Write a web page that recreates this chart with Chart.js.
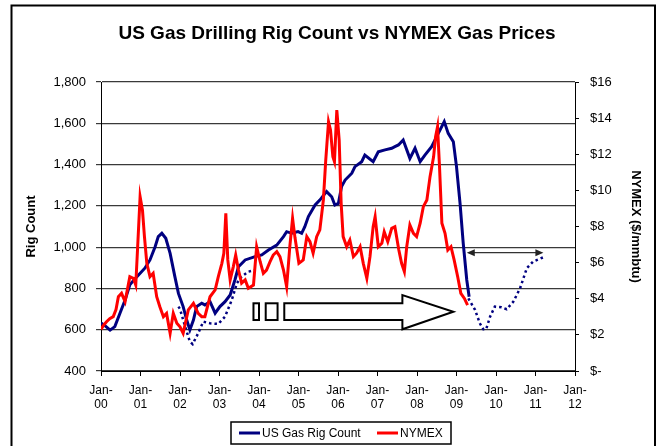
<!DOCTYPE html>
<html>
<head>
<meta charset="utf-8">
<script src="https://cdn.jsdelivr.net/npm/chart.js@4.4.0/dist/chart.umd.min.js"></script>
<style>
	body { margin: 0; background: #fff; }
	canvas { display: block; }
</style>
</head>
<body>
<canvas id="rigChart" width="662" height="446"></canvas>
<script>
// Rig count and NYMEX gas price (x = years since Jan-00)
const rigYears = [0.00, 0.10, 0.23, 0.35, 0.48, 0.61, 0.73, 0.85, 0.95, 1.11, 1.24, 1.37, 1.45, 1.54, 1.64, 1.75, 1.87, 1.96,
	2.08, 2.17, 2.25, 2.34, 2.42, 2.55, 2.63, 2.76, 2.89, 3.01, 3.14, 3.27, 3.39, 3.48, 3.65, 3.90, 4.07, 4.24, 4.45,
	4.62, 4.70, 4.83, 4.99, 5.08, 5.16, 5.25, 5.42, 5.54, 5.71, 5.84, 5.92, 6.01, 6.09, 6.18, 6.35, 6.43, 6.60, 6.68,
	6.89, 7.02, 7.19, 7.36, 7.44, 7.53, 7.65, 7.82, 7.95, 8.08, 8.20, 8.37, 8.54, 8.69, 8.79, 8.92, 9.00, 9.09, 9.17,
	9.26, 9.32];
const rigCounts = [632, 620, 598, 615, 680, 744, 817, 845, 865, 898, 938, 1002, 1051, 1067, 1043, 970, 857, 776,
	712, 647, 599, 647, 712, 728, 720, 736, 680, 712, 736, 768, 841, 905, 938, 954, 962, 986, 1010,
	1051, 1075, 1067, 1075, 1067, 1099, 1148, 1204, 1228, 1269, 1244, 1204, 1212, 1293, 1325, 1358, 1390, 1414, 1446,
	1414, 1462, 1471, 1479, 1487, 1495, 1519, 1430, 1479, 1414, 1446, 1487, 1551, 1608, 1551, 1511, 1390, 1212, 1019,
	841, 760];

// dotted rig count paths (two pieces, null splits them)
const dotYears = [1.96, 2.00, 2.13, 2.25, 2.32, 2.46, 2.59, 2.76, 2.97, 3.14, 3.31, 3.44, 3.56, 3.73, 3.90,
	6.00,
	9.30, 9.47, 9.59, 9.68, 9.75, 9.85, 9.97, 10.14, 10.27, 10.44, 10.61, 10.78, 10.94, 11.20];
const dotCounts = [712, 700, 615, 542, 530, 583, 639, 631, 628, 663, 744, 825, 857, 881, 889,
	null,
	752, 696, 631, 602, 602, 663, 712, 709, 699, 736, 801, 898, 930, 951];

const gasYears = [0.00, 0.07, 0.14, 0.22, 0.31, 0.38, 0.44, 0.52, 0.61, 0.73, 0.82, 0.88, 0.92, 0.99, 1.05, 1.10,
	1.16, 1.24, 1.32, 1.41, 1.49, 1.58, 1.66, 1.75, 1.83, 1.92, 2.00, 2.08, 2.21, 2.34, 2.46, 2.55, 2.63, 2.76,
	2.89, 2.97, 3.06, 3.11, 3.16, 3.21, 3.27, 3.35, 3.41, 3.48, 3.56, 3.65, 3.73, 3.86, 3.94, 4.03, 4.11, 4.19,
	4.28, 4.36, 4.45, 4.53, 4.62, 4.70, 4.78, 4.85, 4.91, 5.01, 5.12, 5.21, 5.29, 5.37, 5.46, 5.54, 5.63, 5.69,
	5.76, 5.81, 5.87, 5.91, 5.97, 6.03, 6.08, 6.13, 6.22, 6.30, 6.39, 6.47, 6.56, 6.64, 6.73, 6.81, 6.89, 6.94,
	7.02, 7.11, 7.17, 7.26, 7.36, 7.44, 7.54, 7.61, 7.68, 7.74, 7.82, 7.91, 7.99, 8.08, 8.16, 8.25, 8.33, 8.42,
	8.47, 8.52, 8.57, 8.63, 8.71, 8.78, 8.86, 8.94, 9.03, 9.11, 9.20, 9.28];
const gasPrices = [2.30, 2.55, 2.73, 2.90, 3.01, 3.40, 4.11, 4.30, 3.84, 5.22, 5.13, 4.76, 6.52, 9.65, 8.91, 7.44,
	5.96, 5.22, 5.41, 4.11, 3.56, 3.01, 3.19, 2.09, 3.19, 2.64, 2.45, 2.09, 3.38, 3.75, 3.19, 3.01, 3.01, 4.11,
	4.49, 5.22, 5.96, 6.52, 8.73, 6.15, 5.04, 5.78, 6.42, 5.59, 4.86, 5.04, 4.58, 4.76, 6.88, 6.05, 5.41, 5.59,
	6.05, 6.42, 6.61, 6.33, 5.59, 4.67, 6.88, 8.45, 7.40, 5.96, 6.15, 7.44, 7.16, 6.52, 7.44, 7.81, 9.47, 11.68,
	13.80, 13.34, 11.86, 11.59, 14.45, 12.79, 9.28, 7.44, 6.88, 7.25, 6.33, 6.52, 6.88, 5.96, 5.13, 6.33, 7.99, 8.54,
	6.88, 7.07, 7.71, 7.16, 7.90, 7.99, 6.70, 5.96, 5.50, 6.88, 8.08, 7.62, 7.44, 8.18, 9.10, 9.47, 10.76, 11.86,
	12.97, 13.52, 11.31, 8.18, 7.62, 6.70, 6.88, 6.15, 5.22, 4.30, 4.02, 3.65];

const xTickLabels = [["Jan-", "00"], ["Jan-", "01"], ["Jan-", "02"], ["Jan-", "03"], ["Jan-", "04"], ["Jan-", "05"],
	["Jan-", "06"], ["Jan-", "07"], ["Jan-", "08"], ["Jan-", "09"], ["Jan-", "10"], ["Jan-", "11"], ["Jan-", "12"]];
const rigTickLabels = ["400", "600", "800", "1,000", "1,200", "1,400", "1,600", "1,800"];
const priceTickLabels = ["$-", "$2", "$4", "$6", "$8", "$10", "$12", "$14", "$16"];

const FONT = "Arial, 'Liberation Sans', Helvetica, sans-serif";

function toPoints(xs, ys) {
	return xs.map((x, i) => ({ x: x, y: ys[i] }));
}

// frame round the whole chart
const framePlugin = {
	id: "frame",
	beforeDraw(chart) {
		const ctx = chart.ctx;
		ctx.save();
		ctx.fillStyle = "#fff";
		ctx.fillRect(0, 0, chart.width, chart.height);
		ctx.strokeStyle = "#000";
		ctx.lineWidth = 2;
		ctx.strokeRect(11.5, 5.5, 643.5, 470);
		ctx.restore();
	}
};

// block arrow, little boxes and the double-headed arrow, placed in data units
const notesPlugin = {
	id: "notes",
	afterDatasetsDraw(chart) {
		const ctx = chart.ctx;
		const xs = chart.scales.x, ys = chart.scales.y;
		const px = v => xs.getPixelForValue(v);
		const py = v => ys.getPixelForValue(v);
		ctx.save();
		ctx.strokeStyle = "#000";
		ctx.fillStyle = "#fff";
		ctx.lineWidth = 2;
		ctx.lineJoin = "miter";
		[[3.86, 4.00], [4.17, 4.47]].forEach(b => {
			ctx.fillRect(px(b[0]), py(728), px(b[1]) - px(b[0]), py(647) - py(728));
			ctx.strokeRect(px(b[0]), py(728), px(b[1]) - px(b[0]), py(647) - py(728));
		});
		ctx.beginPath();
		ctx.moveTo(px(4.64), py(728));
		ctx.lineTo(px(7.63), py(728));
		ctx.lineTo(px(7.63), py(768));
		ctx.lineTo(px(8.92), py(687));
		ctx.lineTo(px(7.63), py(602));
		ctx.lineTo(px(7.63), py(647));
		ctx.lineTo(px(4.64), py(647));
		ctx.closePath();
		ctx.fill();
		ctx.stroke();

		// double-headed arrow
		const y = py(973), x1 = px(9.26), x2 = px(11.2);
		ctx.strokeStyle = "#333";
		ctx.fillStyle = "#222";
		ctx.lineWidth = 1.3;
		ctx.beginPath();
		ctx.moveTo(x1 + 4, y);
		ctx.lineTo(x2 - 4, y);
		ctx.stroke();
		ctx.beginPath();
		ctx.moveTo(x1, y); ctx.lineTo(x1 + 8, y - 3.5); ctx.lineTo(x1 + 8, y + 3.5); ctx.closePath();
		ctx.moveTo(x2, y); ctx.lineTo(x2 - 8, y - 3.5); ctx.lineTo(x2 - 8, y + 3.5); ctx.closePath();
		ctx.fill();
		ctx.restore();
	}
};

// boxed legend under the axis
const legendBoxPlugin = {
	id: "legendBox",
	afterDraw(chart) {
		const ctx = chart.ctx;
		const ds = chart.data.datasets;
		ctx.save();
		ctx.strokeStyle = "#000";
		ctx.lineWidth = 1.5;
		ctx.strokeRect(231, 422, 220, 22);
		ctx.font = "12px " + FONT;
		ctx.fillStyle = "#000";
		ctx.textBaseline = "middle";
		const items = [{ ds: ds[0], x: 239 }, { ds: ds[1], x: 377 }];
		items.forEach(it => {
			ctx.strokeStyle = it.ds.borderColor;
			ctx.lineWidth = 3;
			ctx.beginPath();
			ctx.moveTo(it.x, 433);
			ctx.lineTo(it.x + 21, 433);
			ctx.stroke();
			ctx.fillText(it.ds.label, it.x + 23, 433.5);
		});
		ctx.restore();
	}
};

new Chart(document.getElementById("rigChart").getContext("2d"), {
	type: "line",
	data: {
		datasets: [
			{ label: "US Gas Rig Count", data: toPoints(rigYears, rigCounts), yAxisID: "y",
				borderColor: "#000080", borderWidth: 3, pointRadius: 0, fill: false, order: 1 },
			{ label: "NYMEX", data: toPoints(gasYears, gasPrices), yAxisID: "y1",
				borderColor: "#ff0000", borderWidth: 3, pointRadius: 0, fill: false, order: 0 },
			{ label: "Rig Count (dotted)", data: toPoints(dotYears, dotCounts), yAxisID: "y",
				borderColor: "#000080", borderWidth: 2.5, borderDash: [2.5, 3], pointRadius: 0, fill: false,
				spanGaps: false, order: 2 }
		]
	},
	options: {
		responsive: false,
		animation: false,
		layout: { padding: { left: 12, right: 0, top: 0, bottom: 0 } },
		plugins: {
			legend: { display: false },
			tooltip: { enabled: false },
			title: {
				display: true,
				text: "US Gas Drilling Rig Count vs NYMEX Gas Prices",
				color: "#000",
				font: { family: FONT, size: 19, weight: "bold" },
				padding: { top: 22, bottom: 37.2 }
			}
		},
		scales: {
			x: {
				type: "linear",
				min: 0, max: 12,
				ticks: {
					stepSize: 1, autoSkip: false, maxRotation: 0, padding: 7,
					color: "#000", font: { family: FONT, size: 12 },
					callback: v => xTickLabels[v]
				},
				grid: { drawOnChartArea: false, tickLength: 5, color: "#000" },
				border: { color: "#000", width: 1 },
				afterFit: s => { s.height = 75; }
			},
			y: {
				position: "left",
				min: 400, max: 1800,
				ticks: {
					stepSize: 200, padding: 10, color: "#000", font: { family: FONT, size: 13 },
					callback: (v, i) => rigTickLabels[i]
				},
				grid: { color: "#3a3a3a", lineWidth: 1.2, tickLength: 5 },
				border: { color: "#000", width: 1 },
				title: { display: true, text: "Rig Count", color: "#000",
					font: { family: FONT, size: 13, weight: "bold" }, padding: { top: 12, bottom: 0 } },
				afterFit: s => { s.width = 89; }
			},
			y1: {
				position: "right",
				min: 0, max: 16,
				ticks: {
					stepSize: 2, padding: 11, color: "#000", font: { family: FONT, size: 13 },
					callback: (v, i) => priceTickLabels[i]
				},
				grid: { drawOnChartArea: false, tickLength: 4, color: "#000" },
				border: { color: "#000", width: 1 },
				title: { display: true, text: "NYMEX ($/mmbtu)", color: "#000",
					font: { family: FONT, size: 13, weight: "bold" }, padding: { top: 19, bottom: 0 } },
				afterFit: s => { s.width = 87; }
			}
		}
	},
	plugins: [framePlugin, notesPlugin, legendBoxPlugin]
});
</script>
</body>
</html>
